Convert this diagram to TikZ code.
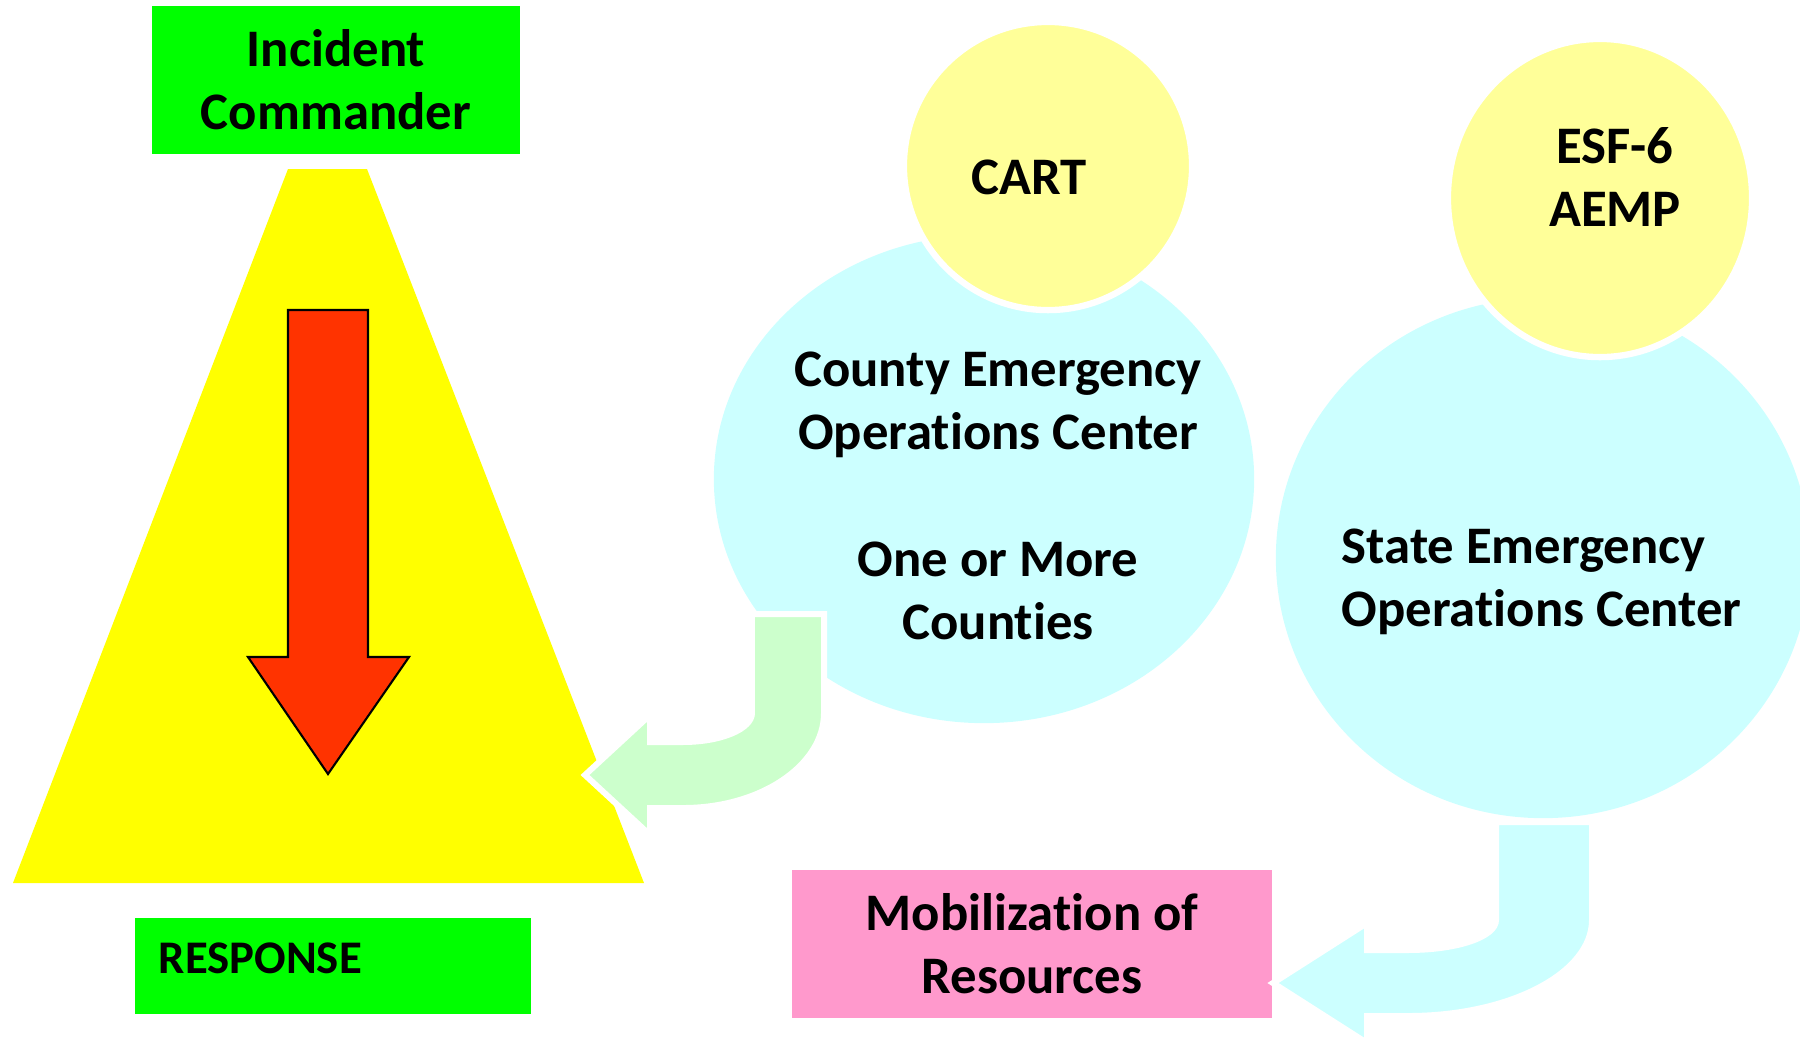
\documentclass[tikz,border=0pt]{standalone}
\usepackage{fontspec}
\setmainfont{Carlito}[RawFeature=-liga]
\usetikzlibrary{shapes.geometric}
\definecolor{cmdgreen}{HTML}{00FF00}
\definecolor{trapyellow}{HTML}{FFFF00}
\definecolor{downred}{HTML}{FF3300}
\definecolor{eoccyan}{HTML}{CCFFFF}
\definecolor{teamyellow}{HTML}{FFFF99}
\definecolor{flowgreen}{HTML}{CCFFCC}
\definecolor{mobpink}{HTML}{FF99CC}
\begin{document}
\begin{tikzpicture}[x=0.01cm, y=-0.01cm]
	\tikzset{box/.style={inner sep=0pt, outer sep=0pt, align=center, font=\bfseries\fontsize{15}{18}\selectfont},
	eoc/.style={ellipse, fill=eoccyan, inner sep=0pt, outer sep=0pt},
	team/.style={ellipse, fill=teamyellow, draw=white, line width=1.8pt, inner sep=0pt},
	txt/.style={inner sep=0pt, font=\bfseries\fontsize{15}{18}\selectfont},
	flow/.style={draw=white, line width=1.7pt, line join=miter}};

	\useasboundingbox (0,0) rectangle (1800,1042);

	\fill[trapyellow] (288,169) -- (367,169) -- (644,883) -- (13,883) -- cycle;
	\draw[fill=downred, line width=0.6pt] (288,310) -- (368,310) -- (368,657) -- (409,657)
		-- (328,774) -- (248,657) -- (288,657) -- cycle;

	\node[box, fill=cmdgreen, minimum width=3.68cm, minimum height=1.48cm] (ic) at (336,80) {Incident\\Commander};
	\node[box, fill=cmdgreen, minimum width=3.95cm, minimum height=0.96cm] (resp) at (333,966) {};
	\node[txt, anchor=west, font=\bfseries\fontsize{13.3}{16}\selectfont] (resptxt) at (158,958) {RESPONSE};

	\node[eoc, minimum width=5.4cm, minimum height=4.88cm] (county) at (984,479) {};
	\node[team, minimum width=2.88cm, minimum height=2.88cm] (cart) at (1048,166) {};
	\node[txt] (carttxt) at (1029,177) {CART};

	\node[eoc, minimum width=5.34cm, minimum height=5.2cm] (state) at (1543,558) {};
	\node[team, minimum width=3.04cm, minimum height=3.18cm] (esf) at (1600,198) {};
	\node[txt, align=center] (esftxt) at (1615,177) {ESF-6\\AEMP};

	\filldraw[flow, fill=flowgreen] (752,614) -- (824,614) -- (824,713)
		.. controls (824,765) and (761,808) .. (683,808) -- (650,808) -- (650,835) -- (585,775)
		-- (650,715) -- (650,742) -- (683,742) .. controls (721,742) and (752,729) .. (752,713) -- cycle;

	\node[txt, align=center] (countytxt) at (998,496) {County Emergency\\Operations Center\\[18pt]One or More\\Counties};
	\node[txt, align=left, anchor=west] (statetxt) at (1341,582) {State Emergency\\Operations Center};

	\node[box, fill=mobpink, minimum width=4.8cm, minimum height=1.48cm] (mob) at (1032,944) {Mobilization of\\Resources};

	\filldraw[flow, fill=eoccyan] (1496,822) -- (1592,822) -- (1592,920)
		.. controls (1592,973) and (1510,1016) .. (1408,1016) -- (1367,1016) -- (1367,1043) -- (1273,983)
		-- (1367,923) -- (1367,950) -- (1408,950) .. controls (1457,950) and (1496,937) .. (1496,920) -- cycle;
\end{tikzpicture}
\end{document}
